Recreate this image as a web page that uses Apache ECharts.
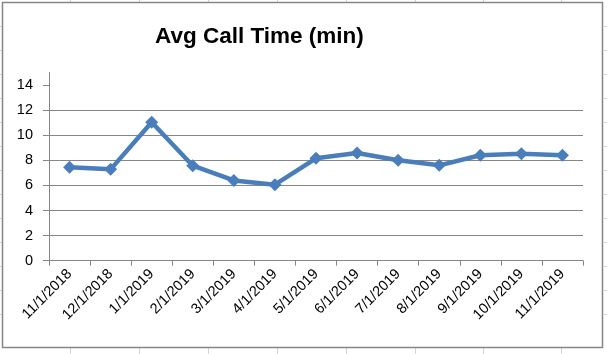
<!DOCTYPE html>
<html>
<head>
<meta charset="utf-8">
<script src="https://cdn.jsdelivr.net/npm/echarts@6/dist/echarts.min.js"></script>
<style>
html,body{margin:0;padding:0;background:#fff;}
#chart{width:607px;height:354px;}
</style>
</head>
<body>
<div id="chart"></div>
<script>
var categories = ['11/1/2018','12/1/2018','1/1/2019','2/1/2019','3/1/2019','4/1/2019','5/1/2019','6/1/2019','7/1/2019','8/1/2019','9/1/2019','10/1/2019','11/1/2019'];
var avgCallTime = [7.44, 7.28, 11.03, 7.57, 6.4, 6.06, 8.16, 8.58, 8.0, 7.6, 8.4, 8.53, 8.4];
var yTickLabels = [0, 2, 4, 6, 8, 10, 12, 14];

var chart = echarts.init(document.getElementById('chart'), null, {renderer: 'canvas'});

// spreadsheet gridline stubs visible around the chart object
var sheet = [];
var cols = [70, 139, 208, 277, 346, 415, 483, 561];
cols.forEach(function (x) {
  sheet.push({type: 'line', shape: {x1: x + 0.5, y1: 0, x2: x + 0.5, y2: 2}, style: {stroke: '#d4d4d4', lineWidth: 1}, silent: true});
  sheet.push({type: 'line', shape: {x1: x + 0.5, y1: 348, x2: x + 0.5, y2: 354}, style: {stroke: '#d4d4d4', lineWidth: 1}, silent: true});
});
for (var y = 26; y <= 330; y += 24) {
  sheet.push({type: 'line', shape: {x1: 0, y1: y + 0.5, x2: 2, y2: y + 0.5}, style: {stroke: '#d4d4d4', lineWidth: 1}, silent: true});
  sheet.push({type: 'line', shape: {x1: 604, y1: y + 0.5, x2: 607, y2: y + 0.5}, style: {stroke: '#d4d4d4', lineWidth: 1}, silent: true});
}
sheet.push({type: 'rect', shape: {x: 2.5, y: 2.5, width: 600, height: 345}, style: {fill: null, stroke: '#868686', lineWidth: 1.5}, silent: true, z: 100});

var option = {
  backgroundColor: '#ffffff',
  animation: false,
  title: {
    text: 'Avg Call Time (min)',
    left: 155,
    top: 25,
    padding: 0,
    textStyle: {fontFamily: 'Liberation Sans', fontWeight: 'bold', fontSize: 22.5, color: '#000000', lineHeight: 24}
  },
  graphic: sheet,
  grid: {left: 49, right: 24, top: 72.5, bottom: 93.3, containLabel: false},
  xAxis: {
    type: 'category',
    data: categories,
    boundaryGap: true,
    axisLine: {show: true, lineStyle: {color: '#868686', width: 1}},
    axisTick: {show: true, length: 5, lineStyle: {color: '#868686'}},
    axisLabel: {rotate: 45, interval: 0, margin: 11, fontFamily: 'Liberation Sans', fontSize: 14.5, color: '#000000'},
    splitLine: {show: false}
  },
  yAxis: {
    type: 'value',
    min: 0,
    max: 15,
    interval: 2,
    axisLine: {show: true, lineStyle: {color: '#868686', width: 1}},
    axisTick: {show: true, length: 6, customValues: yTickLabels, lineStyle: {color: '#868686'}},
    axisLabel: {customValues: yTickLabels, margin: 16, fontFamily: 'Liberation Sans', fontSize: 14.5, color: '#000000'},
    splitLine: {show: true, showMaxLine: false, lineStyle: {color: '#868686', width: 1}}
  },
  series: [{
    type: 'line',
    data: avgCallTime,
    symbol: 'diamond',
    symbolSize: 13,
    showSymbol: true,
    lineStyle: {color: '#4a7ebb', width: 4.5},
    itemStyle: {color: '#4a7ebb'}
  }]
};
chart.setOption(option);
</script>
</body>
</html>
